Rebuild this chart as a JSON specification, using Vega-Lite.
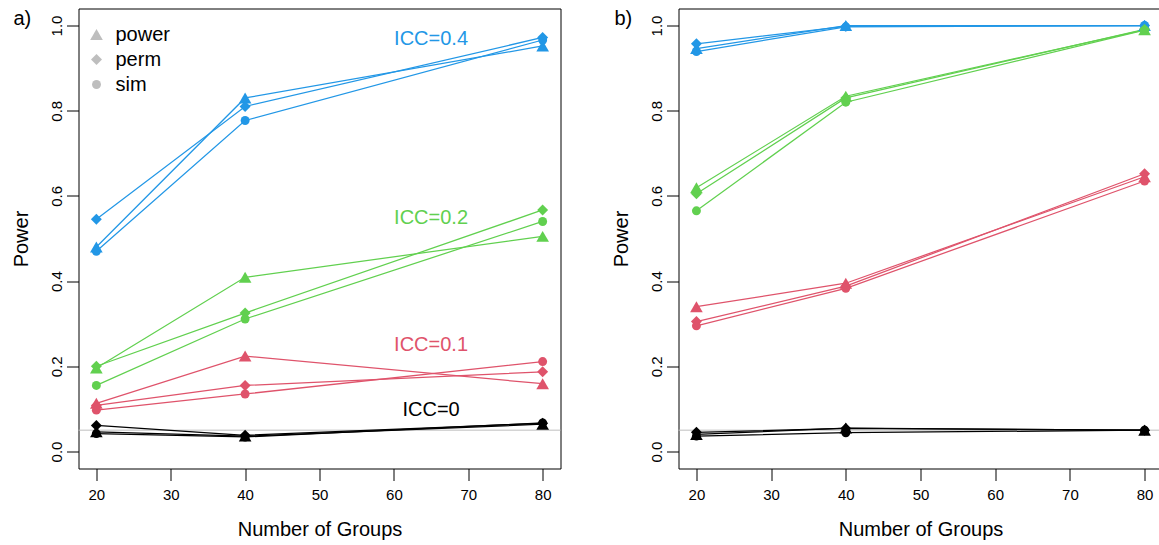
{
  "$schema": "https://vega.github.io/schema/vega-lite/v6.json",
  "autosize": {"type": "pad"},
  "padding": {"left": 10.5, "top": 7.5, "right": 0, "bottom": 0},
  "background": "white",
  "datasets": {
    "pts": [
      {"panel": "a", "icc": "0.4", "method": "power", "groups": 20, "power": 0.480},
      {"panel": "a", "icc": "0.4", "method": "power", "groups": 40, "power": 0.830},
      {"panel": "a", "icc": "0.4", "method": "power", "groups": 80, "power": 0.952},
      {"panel": "a", "icc": "0.4", "method": "perm", "groups": 20, "power": 0.545},
      {"panel": "a", "icc": "0.4", "method": "perm", "groups": 40, "power": 0.810},
      {"panel": "a", "icc": "0.4", "method": "perm", "groups": 80, "power": 0.972},
      {"panel": "a", "icc": "0.4", "method": "sim", "groups": 20, "power": 0.470},
      {"panel": "a", "icc": "0.4", "method": "sim", "groups": 40, "power": 0.777},
      {"panel": "a", "icc": "0.4", "method": "sim", "groups": 80, "power": 0.966},
      {"panel": "a", "icc": "0.2", "method": "power", "groups": 20, "power": 0.196},
      {"panel": "a", "icc": "0.2", "method": "power", "groups": 40, "power": 0.409},
      {"panel": "a", "icc": "0.2", "method": "power", "groups": 80, "power": 0.505},
      {"panel": "a", "icc": "0.2", "method": "perm", "groups": 20, "power": 0.200},
      {"panel": "a", "icc": "0.2", "method": "perm", "groups": 40, "power": 0.325},
      {"panel": "a", "icc": "0.2", "method": "perm", "groups": 80, "power": 0.567},
      {"panel": "a", "icc": "0.2", "method": "sim", "groups": 20, "power": 0.155},
      {"panel": "a", "icc": "0.2", "method": "sim", "groups": 40, "power": 0.311},
      {"panel": "a", "icc": "0.2", "method": "sim", "groups": 80, "power": 0.540},
      {"panel": "a", "icc": "0.1", "method": "power", "groups": 20, "power": 0.113},
      {"panel": "a", "icc": "0.1", "method": "power", "groups": 40, "power": 0.224},
      {"panel": "a", "icc": "0.1", "method": "power", "groups": 80, "power": 0.159},
      {"panel": "a", "icc": "0.1", "method": "perm", "groups": 20, "power": 0.108},
      {"panel": "a", "icc": "0.1", "method": "perm", "groups": 40, "power": 0.155},
      {"panel": "a", "icc": "0.1", "method": "perm", "groups": 80, "power": 0.187},
      {"panel": "a", "icc": "0.1", "method": "sim", "groups": 20, "power": 0.097},
      {"panel": "a", "icc": "0.1", "method": "sim", "groups": 40, "power": 0.135},
      {"panel": "a", "icc": "0.1", "method": "sim", "groups": 80, "power": 0.211},
      {"panel": "a", "icc": "0", "method": "power", "groups": 20, "power": 0.046},
      {"panel": "a", "icc": "0", "method": "power", "groups": 40, "power": 0.036},
      {"panel": "a", "icc": "0", "method": "power", "groups": 80, "power": 0.064},
      {"panel": "a", "icc": "0", "method": "perm", "groups": 20, "power": 0.061},
      {"panel": "a", "icc": "0", "method": "perm", "groups": 40, "power": 0.038},
      {"panel": "a", "icc": "0", "method": "perm", "groups": 80, "power": 0.066},
      {"panel": "a", "icc": "0", "method": "sim", "groups": 20, "power": 0.042},
      {"panel": "a", "icc": "0", "method": "sim", "groups": 40, "power": 0.034},
      {"panel": "a", "icc": "0", "method": "sim", "groups": 80, "power": 0.067},
      {"panel": "b", "icc": "0.4", "method": "power", "groups": 20, "power": 0.946},
      {"panel": "b", "icc": "0.4", "method": "power", "groups": 40, "power": 1.000},
      {"panel": "b", "icc": "0.4", "method": "power", "groups": 80, "power": 1.000},
      {"panel": "b", "icc": "0.4", "method": "perm", "groups": 20, "power": 0.957},
      {"panel": "b", "icc": "0.4", "method": "perm", "groups": 40, "power": 0.998},
      {"panel": "b", "icc": "0.4", "method": "perm", "groups": 80, "power": 1.000},
      {"panel": "b", "icc": "0.4", "method": "sim", "groups": 20, "power": 0.939},
      {"panel": "b", "icc": "0.4", "method": "sim", "groups": 40, "power": 0.997},
      {"panel": "b", "icc": "0.4", "method": "sim", "groups": 80, "power": 1.000},
      {"panel": "b", "icc": "0.2", "method": "power", "groups": 20, "power": 0.619},
      {"panel": "b", "icc": "0.2", "method": "power", "groups": 40, "power": 0.834},
      {"panel": "b", "icc": "0.2", "method": "power", "groups": 80, "power": 0.990},
      {"panel": "b", "icc": "0.2", "method": "perm", "groups": 20, "power": 0.605},
      {"panel": "b", "icc": "0.2", "method": "perm", "groups": 40, "power": 0.830},
      {"panel": "b", "icc": "0.2", "method": "perm", "groups": 80, "power": 0.991},
      {"panel": "b", "icc": "0.2", "method": "sim", "groups": 20, "power": 0.565},
      {"panel": "b", "icc": "0.2", "method": "sim", "groups": 40, "power": 0.820},
      {"panel": "b", "icc": "0.2", "method": "sim", "groups": 80, "power": 0.989},
      {"panel": "b", "icc": "0.1", "method": "power", "groups": 20, "power": 0.340},
      {"panel": "b", "icc": "0.1", "method": "power", "groups": 40, "power": 0.395},
      {"panel": "b", "icc": "0.1", "method": "power", "groups": 80, "power": 0.645},
      {"panel": "b", "icc": "0.1", "method": "perm", "groups": 20, "power": 0.305},
      {"panel": "b", "icc": "0.1", "method": "perm", "groups": 40, "power": 0.388},
      {"panel": "b", "icc": "0.1", "method": "perm", "groups": 80, "power": 0.652},
      {"panel": "b", "icc": "0.1", "method": "sim", "groups": 20, "power": 0.295},
      {"panel": "b", "icc": "0.1", "method": "sim", "groups": 40, "power": 0.383},
      {"panel": "b", "icc": "0.1", "method": "sim", "groups": 80, "power": 0.635},
      {"panel": "b", "icc": "0", "method": "power", "groups": 20, "power": 0.040},
      {"panel": "b", "icc": "0", "method": "power", "groups": 40, "power": 0.055},
      {"panel": "b", "icc": "0", "method": "power", "groups": 80, "power": 0.050},
      {"panel": "b", "icc": "0", "method": "perm", "groups": 20, "power": 0.045},
      {"panel": "b", "icc": "0", "method": "perm", "groups": 40, "power": 0.054},
      {"panel": "b", "icc": "0", "method": "perm", "groups": 80, "power": 0.050},
      {"panel": "b", "icc": "0", "method": "sim", "groups": 20, "power": 0.036},
      {"panel": "b", "icc": "0", "method": "sim", "groups": 40, "power": 0.044},
      {"panel": "b", "icc": "0", "method": "sim", "groups": 80, "power": 0.050}
    ],
    "labels": [
      {"icc": "0.4", "label": "ICC=0.4", "groups": 65, "power": 0.968},
      {"icc": "0.2", "label": "ICC=0.2", "groups": 65, "power": 0.549},
      {"icc": "0.1", "label": "ICC=0.1", "groups": 65, "power": 0.249},
      {"icc": "0", "label": "ICC=0", "groups": 65, "power": 0.098}
    ],
    "ref": [{"power": 0.05}]
  },
  "bounds": "flush",
  "spacing": 118,
  "resolve": {
    "scale": {"x": "independent", "y": "independent"},
    "legend": {"shape": "independent", "size": "independent", "color": "independent"}
  },
  "hconcat": [
    {
      "width": 482,
      "height": 460,
      "title": {"text": "a)", "anchor": "start", "frame": "group", "orient": "top", "offset": -21, "dx": -65, "dy": 15.5, "baseline": "alphabetic", "fontSize": 20, "fontWeight": "normal", "color": "black"},
      "layer": [
        {
          "data": {"name": "ref"},
          "mark": {"type": "rule", "color": "#BEBEBE", "strokeWidth": 1},
          "encoding": {
            "y": {"field": "power", "type": "quantitative", "title": "Power", "scale": {"domain": [-0.04, 1.04], "nice": false, "zero": false}, "axis": {"values": [0, 0.2, 0.4, 0.6, 0.8, 1.0], "format": ".1f"}}
          }
        },
        {
          "data": {"name": "pts"},
          "transform": [{"filter": "datum.panel === 'a'"}],
          "mark": {"type": "line", "strokeWidth": 1.25},
          "encoding": {
            "x": {"field": "groups", "type": "quantitative", "title": "Number of Groups", "scale": {"domain": [17.6, 82.4], "nice": false, "zero": false}, "axis": {"values": [20, 30, 40, 50, 60, 70, 80]}},
            "y": {"field": "power", "type": "quantitative", "title": "Power"},
            "color": {"field": "icc", "type": "nominal", "scale": {"domain": ["0", "0.1", "0.2", "0.4"], "range": ["#000000", "#DF536B", "#61D04F", "#2297E6"]}, "legend": null},
            "detail": {"field": "method", "type": "nominal"}
          }
        },
        {
          "data": {"name": "pts"},
          "transform": [{"filter": "datum.panel === 'a'"}],
          "mark": {"type": "point", "filled": true, "opacity": 1, "strokeWidth": 0},
          "encoding": {
            "x": {"field": "groups", "type": "quantitative", "title": "Number of Groups"},
            "y": {"field": "power", "type": "quantitative", "title": "Power"},
            "color": {"field": "icc", "type": "nominal", "legend": null},
            "shape": {"field": "method", "type": "nominal", "scale": {"domain": ["power", "perm", "sim"], "range": ["triangle-up", "diamond", "circle"]},
              "legend": {"title": null, "orient": "none", "legendX": 8, "legendY": 16, "padding": 0, "labelFontSize": 20, "labelColor": "black", "labelOffset": 9, "rowPadding": 5, "symbolStrokeWidth": 0, "symbolFillColor": "#BEBEBE", "symbolOpacity": 1,
                "encode": {"symbols": {"update": {"fill": {"value": "#BEBEBE"}, "stroke": {"value": "transparent"}, "opacity": {"value": 1}}}}}},
            "size": {"field": "method", "type": "nominal", "scale": {"domain": ["power", "perm", "sim"], "range": [160, 80, 150]},
              "legend": {"title": null, "orient": "none", "legendX": 8, "legendY": 16, "padding": 0, "labelFontSize": 20, "labelColor": "black", "labelOffset": 9, "rowPadding": 5, "symbolStrokeWidth": 0, "symbolFillColor": "#BEBEBE", "symbolOpacity": 1,
                "encode": {"symbols": {"update": {"fill": {"value": "#BEBEBE"}, "stroke": {"value": "transparent"}, "opacity": {"value": 1}}}}}}
          }
        },
        {
          "data": {"name": "labels"},
          "mark": {"type": "text", "fontSize": 20, "align": "center", "baseline": "middle"},
          "encoding": {
            "x": {"field": "groups", "type": "quantitative", "title": "Number of Groups"},
            "y": {"field": "power", "type": "quantitative", "title": "Power"},
            "text": {"field": "label", "type": "nominal"},
            "color": {"field": "icc", "type": "nominal", "legend": null}
          }
        }
      ]
    },
    {
      "width": 484,
      "height": 460,
      "title": {"text": "b)", "anchor": "start", "frame": "group", "orient": "top", "offset": -21, "dx": -64, "dy": 15.5, "baseline": "alphabetic", "fontSize": 20, "fontWeight": "normal", "color": "black"},
      "layer": [
        {
          "data": {"name": "ref"},
          "mark": {"type": "rule", "color": "#BEBEBE", "strokeWidth": 1},
          "encoding": {
            "y": {"field": "power", "type": "quantitative", "title": "Power", "scale": {"domain": [-0.04, 1.04], "nice": false, "zero": false}, "axis": {"values": [0, 0.2, 0.4, 0.6, 0.8, 1.0], "format": ".1f"}}
          }
        },
        {
          "data": {"name": "pts"},
          "transform": [{"filter": "datum.panel === 'b'"}],
          "mark": {"type": "line", "strokeWidth": 1.25},
          "encoding": {
            "x": {"field": "groups", "type": "quantitative", "title": "Number of Groups", "scale": {"domain": [17.6, 82.4], "nice": false, "zero": false}, "axis": {"values": [20, 30, 40, 50, 60, 70, 80]}},
            "y": {"field": "power", "type": "quantitative", "title": "Power"},
            "color": {"field": "icc", "type": "nominal", "scale": {"domain": ["0", "0.1", "0.2", "0.4"], "range": ["#000000", "#DF536B", "#61D04F", "#2297E6"]}, "legend": null},
            "detail": {"field": "method", "type": "nominal"}
          }
        },
        {
          "data": {"name": "pts"},
          "transform": [{"filter": "datum.panel === 'b'"}],
          "mark": {"type": "point", "filled": true, "opacity": 1, "strokeWidth": 0},
          "encoding": {
            "x": {"field": "groups", "type": "quantitative", "title": "Number of Groups"},
            "y": {"field": "power", "type": "quantitative", "title": "Power"},
            "color": {"field": "icc", "type": "nominal", "legend": null},
            "shape": {"field": "method", "type": "nominal", "scale": {"domain": ["power", "perm", "sim"], "range": ["triangle-up", "diamond", "circle"]}, "legend": null},
            "size": {"field": "method", "type": "nominal", "scale": {"domain": ["power", "perm", "sim"], "range": [160, 80, 150]}, "legend": null}
          }
        }
      ]
    }
  ],
  "config": {
    "font": "Liberation Sans",
    "view": {"stroke": "black", "strokeWidth": 1},
    "axis": {
      "grid": false,
      "domain": false,
      "tickColor": "black",
      "tickSize": 12,
      "tickWidth": 1,
      "labelColor": "black",
      "labelFontSize": 15,
      "labelFlush": false,
      "labelOverlap": false,
      "titleColor": "black",
      "titleFontSize": 20,
      "titleFontWeight": "normal"
    },
    "axisX": {
      "labelPadding": 7,
      "titleBaseline": "alphabetic",
      "titleY": 67
    },
    "axisY": {
      "labelAngle": -90,
      "labelAlign": "center",
      "labelBaseline": "alphabetic",
      "labelPadding": 5,
      "titleAngle": -90,
      "titleX": -51.5,
      "titleY": 230,
      "titleAlign": "center",
      "titleBaseline": "alphabetic"
    }
  }
}
